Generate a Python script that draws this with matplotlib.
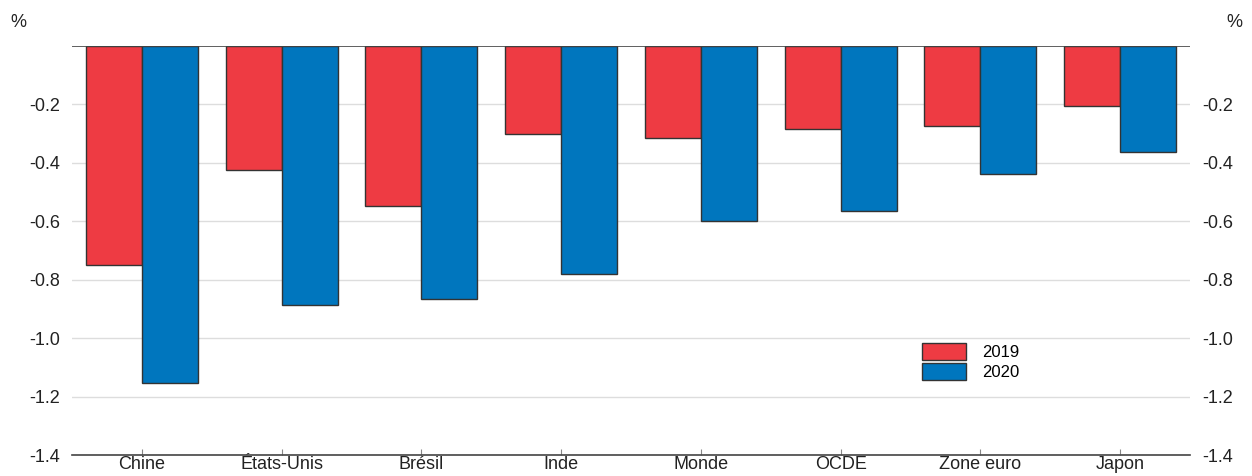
import matplotlib
matplotlib.use('Agg')
import matplotlib.pyplot as plt
import numpy as np

plt.rcParams['font.family'] = ['Liberation Sans', 'DejaVu Sans']

# data
categories = ['Chine', 'États-Unis', 'Brésil', 'Inde', 'Monde', 'OCDE', 'Zone euro', 'Japon']
y2019 = [-0.75, -0.425, -0.548, -0.301, -0.315, -0.284, -0.274, -0.205]
y2020 = [-1.155, -0.887, -0.866, -0.781, -0.599, -0.565, -0.438, -0.363]
yticks = [-1.4, -1.2, -1.0, -0.8, -0.6, -0.4, -0.2]

red = '#EE3B43'
blue = '#0076BE'
edge = '#333333'

fig = plt.figure(figsize=(12.52, 4.76), dpi=100)
ax = fig.add_axes([0.0575, 0.0441, 0.893, 0.8593])

x = np.arange(len(categories))
w = 0.4
ax.bar(x - w/2, y2019, w, color=red, edgecolor=edge, linewidth=1, label='2019', zorder=3)
ax.bar(x + w/2, y2020, w, color=blue, edgecolor=edge, linewidth=1, label='2020', zorder=3)

ax.set_xlim(-0.5, len(categories) - 0.5)
ax.set_ylim(-1.4, 0)
ax.set_yticks(yticks)
ax.set_yticklabels(['%.1f' % v for v in yticks])
ax.set_xticks(x)
ax.set_xticklabels(categories)

ax.grid(axis='y', color='#DDDDDD', linewidth=1, zorder=0)
ax.axhline(0, color='#444444', linewidth=1.2, zorder=4)

for s in ['left', 'right', 'top']:
    ax.spines[s].set_visible(False)
ax.spines['bottom'].set_color('#444444')
ax.spines['bottom'].set_linewidth(1.2)

ax.tick_params(axis='y', length=0, labelsize=13, labelcolor='#222222', pad=8.5,
               left=True, right=True, labelleft=True, labelright=True)
ax.tick_params(axis='x', direction='in', length=4, color='#888888', labelsize=13,
               labelcolor='#222222', pad=1)

fig.text(0.008, 0.953, '%', fontsize=13, color='#222222', va='center')
fig.text(0.992, 0.953, '%', fontsize=13, color='#222222', va='center', ha='right')

leg = ax.legend(loc='upper left', bbox_to_anchor=(0.7545, 0.29), frameon=False,
                fontsize=12, handlelength=2.6, handleheight=1.2, labelspacing=0.15,
                handletextpad=1.0, borderaxespad=0)

fig.savefig('out.png', dpi=100)
